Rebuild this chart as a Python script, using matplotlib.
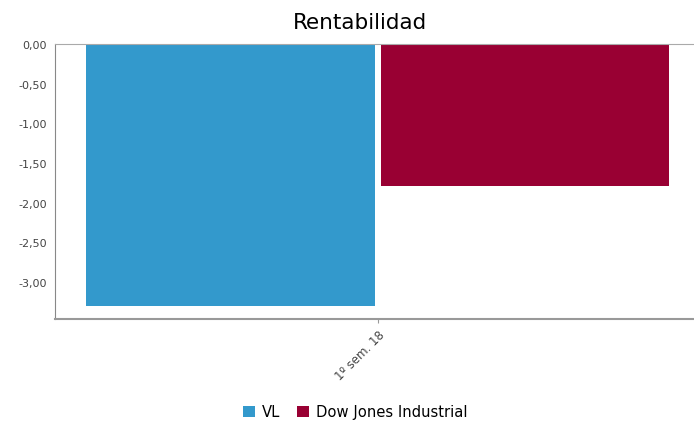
import numpy as np
import matplotlib.pyplot as plt
import matplotlib.transforms as mtransforms

categories = ['1º sem. 18']
series = ['VL', 'Dow Jones Industrial']
values = [-3.30, -1.79]
colors = ['#3399cc', '#990033']
yticks = [0, -0.5, -1.0, -1.5, -2.0, -2.5, -3.0]

fig = plt.figure(figsize=(6.94, 4.27), dpi=100)
ax = fig.add_axes([55/694, 1 - 320/427, 639/694, 275/427])

w = 0.451
offsets = [-0.2305, 0.2305]
for name, v, c, off in zip(series, values, colors, offsets):
    ax.bar(off, v, width=w, color=c, label=name, align='center')

ax.set_xlim(-0.505, 0.495)
ax.set_ylim(-3.47, 0)
ax.set_yticks(yticks)
ax.set_yticklabels(['{:0.2f}'.format(t).replace('.', ',') for t in yticks],
                   fontsize=8, color='#444444')
ax.set_xticks([0])
ax.set_xticklabels(categories, rotation=45, ha='right', rotation_mode='anchor',
                   fontsize=8.5, color='#444444')
# shift the rotated label a bit to the right, like the original
off = mtransforms.ScaledTranslation(9/100, -3/100, fig.dpi_scale_trans)
for lab in ax.get_xticklabels():
    lab.set_transform(lab.get_transform() + off)
ax.tick_params(axis='y', length=0, pad=6)
ax.tick_params(axis='x', length=3, color='#999999')
ax.spines['right'].set_visible(False)
ax.spines['top'].set_color('#aaaaaa')
ax.spines['left'].set_color('#888888')
ax.spines['bottom'].set_color('#999999')
ax.spines['bottom'].set_linewidth(1.5)

fig.text(360/694, 1 - 23/427, 'Rentabilidad', ha='center', va='center', fontsize=15.5)
fig.legend(loc='center', bbox_to_anchor=(355/694, 1 - 413/427), ncol=2, frameon=False,
           fontsize=10.6, handlelength=0.85, handleheight=0.85, handletextpad=0.45, columnspacing=1.1)

fig.savefig('out.png', dpi=100)
